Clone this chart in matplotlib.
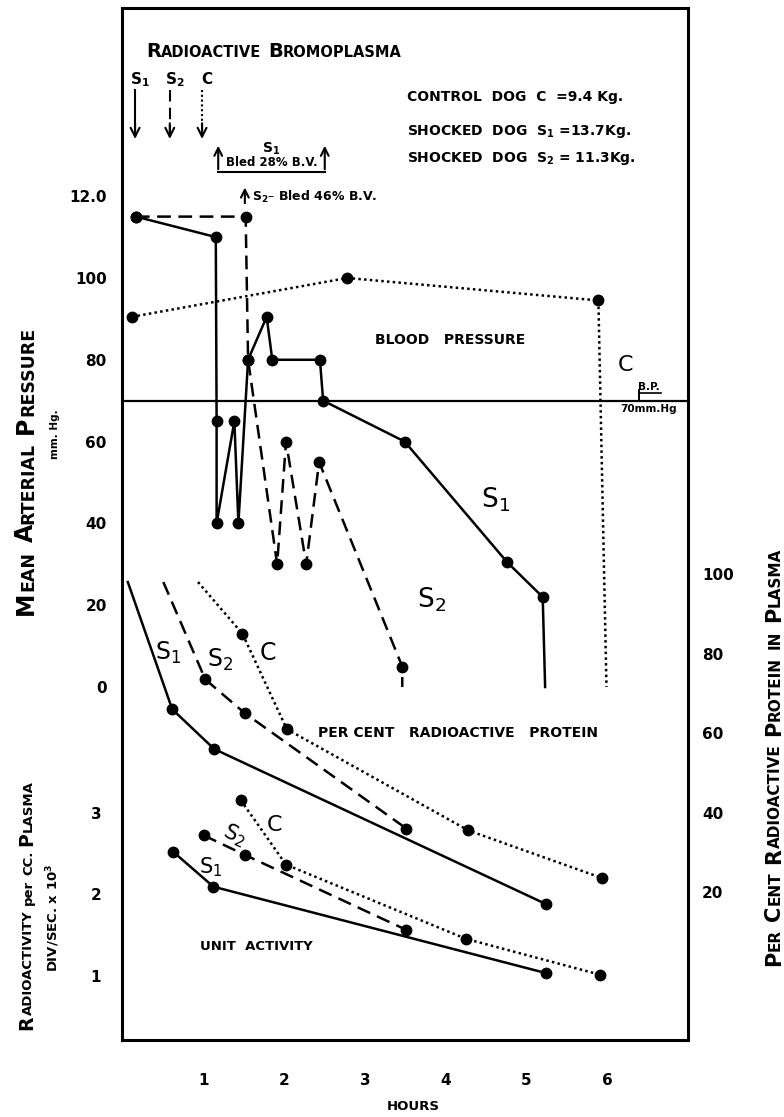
import numpy as np
import matplotlib.pyplot as plt

plt.rcParams['font.family'] = ['DejaVu Sans']
plt.rcParams['font.weight'] = 'bold'
plt.rcParams['mathtext.default'] = 'regular'

# ---- data ----
hour_ticks = [1, 2, 3, 4, 5, 6]
bp_ticks = [0, 20, 40, 60, 80, 100, 120]
bp_ticklabels = ['0', '20', '40', '60', '80', '100', '12.0']
pct_ticks = [20, 40, 60, 80, 100]
unit_ticks = [1, 2, 3]

# mean arterial pressure (mm Hg) vs hours; last point of each is the line end (no dot)
bp_s1_t = [0.16, 1.15, 1.16, 1.16, 1.38, 1.43, 1.55, 1.78, 1.85, 2.44, 2.48, 3.49, 4.76, 5.20, 5.23]
bp_s1_v = [115, 110, 65, 40, 65, 40, 80, 90.5, 80, 80, 70, 60, 30.5, 22, 0]
bp_s2_t = [0.16, 1.52, 1.55, 1.91, 2.02, 2.27, 2.43, 3.46, 3.46]
bp_s2_v = [115, 115, 80, 30, 60, 30, 55, 5, 0]
bp_c_t = [0.11, 2.78, 5.89, 5.99]
bp_c_v = [90.5, 100, 94.5, 0]
bp_limit = 70

# per cent radioactive protein; first point of each is the line start (no dot)
pct_s1_t = [0.06, 0.61, 1.13, 5.24]
pct_s1_v = [98, 66, 56, 17]
pct_s2_t = [0.50, 1.02, 1.51, 3.51]
pct_s2_v = [98, 73.5, 65, 36]
pct_c_t = [0.93, 1.48, 2.03, 4.28, 5.94]
pct_c_v = [98, 85, 61, 35.5, 23.5]

# unit activity, div/sec x 10^3
unit_s1_t = [0.62, 1.12, 5.24]
unit_s1_v = [2.52, 2.09, 1.03]
unit_s2_t = [1.00, 1.51, 3.51]
unit_s2_v = [2.72, 2.48, 1.56]
unit_c_t = [1.46, 2.02, 4.25, 5.91]
unit_c_v = [3.15, 2.36, 1.45, 1.01]

# injection of bromoplasma and bleeding times (hours)
inject_t = [0.15, 0.58, 0.98]
bleed_s1_t = [1.18, 2.50]
bleed_s2_t = 1.51

W, H = 784, 1117
SOLID = '-'
DASH = (0, (5.5, 3))
DOT = (0, (1, 1.3))


def px(x, y):
    return x / W, 1 - y / H


def series(axis, t, v, ls, mark):
    axis.plot(t, v, color='black', linestyle=ls, linewidth=1.8,
              marker='o', markersize=7.5, markevery=mark, zorder=3)


def label(axis, x, y, s, size=17, **kw):
    axis.text(x, y, s, fontsize=size, fontweight='normal', ha='center', va='center', **kw)


def smallcaps(cx, cy, text, big, small, rotation=0, gap=5):
    """capitalised words get a big first letter and small caps after it,
    other words are set small as they are; (cx, cy) is the centre of the
    baseline in pixels from the top left"""
    r = fig.canvas.get_renderer()
    pieces = []
    for w in text.split():
        if w[0].isupper() and w[1:] != w[1:].upper():
            pieces += [(w[0], big, 0), (w[1:].upper(), small, gap)]
        else:
            pieces += [(w, small, gap)]
    # measure
    sizes = []
    for s, fs, g in pieces:
        t = fig.text(0, 0, s, fontsize=fs, rotation=rotation, rotation_mode='anchor')
        bb = t.get_window_extent(r)
        sizes.append(bb.width if rotation == 0 else bb.height)
        t.remove()
    total = sum(sizes) + sum(p[2] for p in pieces[:-1])
    pos = -total / 2
    for (s, fs, g), ln in zip(pieces, sizes):
        if rotation == 0:
            xy = px(cx + pos, cy)
        else:
            xy = px(cx, cy - pos)
        fig.text(*xy, s, fontsize=fs, rotation=rotation, rotation_mode='anchor',
                 ha='left', va='baseline')
        pos += ln + g


fig = plt.figure(figsize=(W / 100, H / 100), dpi=100)
ax = fig.add_axes([122 / W, 1 - 1040 / H, 566 / W, 1032 / H])
ax.set_xlim(-0.012, 7.0)
ax.set_ylim(-86.3, 166.0)
ax_pct = ax.twinx()
ax_pct.set_ylim(-17.2, 242.4)
ax_unit = ax.twinx()
ax_unit.set_ylim(0.209, 12.87)

for a in (ax, ax_pct, ax_unit):
    a.tick_params(length=0, labelsize=11)
    a.patch.set_visible(False)
for a in (ax_pct, ax_unit):
    for s in a.spines.values():
        s.set_visible(False)
for s in ax.spines.values():
    s.set_linewidth(2.2)

ax.set_xticks(hour_ticks)
ax.set_xticklabels([str(h) for h in hour_ticks])
ax.tick_params(axis='x', pad=24)
ax.set_yticks(bp_ticks)
ax.set_yticklabels(bp_ticklabels)
ax.tick_params(axis='y', pad=11)
ax_pct.set_yticks(pct_ticks)
ax_pct.tick_params(axis='y', pad=10)
ax_unit.yaxis.tick_left()
ax_unit.set_yticks(unit_ticks)
ax_unit.tick_params(axis='y', pad=15)

# blood pressure
series(ax, bp_s1_t, bp_s1_v, SOLID, slice(0, -1))
series(ax, bp_s2_t, bp_s2_v, DASH, slice(0, -1))
series(ax, bp_c_t, bp_c_v, DOT, slice(0, -1))
ax.axhline(bp_limit, color='black', linewidth=1.6)

# per cent protein
series(ax_pct, pct_s1_t, pct_s1_v, SOLID, slice(1, None))
series(ax_pct, pct_s2_t, pct_s2_v, DASH, slice(1, None))
series(ax_pct, pct_c_t, pct_c_v, DOT, slice(1, None))

# unit activity
series(ax_unit, unit_s1_t, unit_s1_v, SOLID, None)
series(ax_unit, unit_s2_t, unit_s2_v, DASH, None)
series(ax_unit, unit_c_t, unit_c_v, DOT, None)

# injection arrows
for t, ls, lab in zip(inject_t, [SOLID, DASH, DOT], ['S$_1$', 'S$_2$', 'C']):
    ax.plot([t, t], [146.0, 134.6], color='black', linestyle=ls, linewidth=1.5)
    ax.annotate('', xy=(t, 133.3), xytext=(t, 138.5),
                arrowprops=dict(arrowstyle='->', lw=1.5, color='black', mutation_scale=16))
    ax.text(t + 0.06, 148.6, lab, fontsize=11, ha='center', va='center')

# bleeding
for t in bleed_s1_t:
    ax.annotate('', xy=(t, 133.0), xytext=(t, 125.9),
                arrowprops=dict(arrowstyle='->', lw=1.5, color='black', mutation_scale=14))
ax.plot(bleed_s1_t, [125.9, 125.9], color='black', linewidth=1.5)
ax.text(np.mean(bleed_s1_t), 131.6, 'S$_1$', fontsize=10, ha='center', va='center')
ax.text(np.mean(bleed_s1_t), 128.3, 'Bled 28% B.V.', fontsize=8.5, ha='center', va='center')
ax.annotate('', xy=(bleed_s2_t, 122.8), xytext=(bleed_s2_t, 117.6),
            arrowprops=dict(arrowstyle='->', lw=1.5, color='black', mutation_scale=14))
ax.text(bleed_s2_t + 0.09, 119.8, 'S$_2$\u2013 Bled 46% B.V.', fontsize=9, ha='left', va='center')

smallcaps(274, 57, 'Radioactive Bromoplasma', 14, 10.5, gap=7)
ax.text(3.52, 144.3, 'CONTROL  DOG  C  =9.4 Kg.', fontsize=10, ha='left', va='center')
ax.text(3.52, 135.7, 'SHOCKED  DOG  S$_1$ =13.7Kg.', fontsize=10, ha='left', va='center')
ax.text(3.52, 129.3, 'SHOCKED  DOG  S$_2$ = 11.3Kg.', fontsize=10, ha='left', va='center')

ax.text(3.12, 84.8, 'BLOOD   PRESSURE', fontsize=10, ha='left', va='center')
label(ax, 6.22, 78.7, 'C', 16)
label(ax, 4.62, 45.7, 'S$_1$', 19)
label(ax, 3.82, 21.3, 'S$_2$', 19)
ax.text(6.52, 73.3, 'B.P.', fontsize=7.5, ha='center', va='center')
ax.plot([6.39, 6.67], [71.9, 71.9], color='black', linewidth=1.2)
ax.plot([6.39, 6.39], [bp_limit, 72.5], color='black', linewidth=1.4)
ax.text(6.51, 67.9, '70mm.Hg', fontsize=7.5, ha='center', va='center')

label(ax_pct, 0.56, 80.1, 'S$_1$')
label(ax_pct, 1.20, 78.4, 'S$_2$')
label(ax_pct, 1.80, 80.1, 'C')
ax_pct.text(2.42, 60.0, 'PER CENT   RADIOACTIVE   PROTEIN', fontsize=10, ha='left', va='center')

label(ax_unit, 1.88, 2.85, 'C', 16)
label(ax_unit, 1.38, 2.72, 'S$_2$', 15, rotation=-25)
label(ax_unit, 1.09, 2.33, 'S$_1$', 15)
ax_unit.text(0.95, 1.35, 'UNIT  ACTIVITY', fontsize=9.5, ha='left', va='center')

# axis titles
smallcaps(33, 471, 'Mean Arterial Pressure', 17, 12.5, rotation=90, gap=9)
fig.text(*px(55, 434), 'mm. Hg.', rotation=90, fontsize=7.5, ha='center', va='center')
smallcaps(32, 905, 'Radioactivity per CC. Plasma', 13.5, 9.5, rotation=90, gap=5)
fig.text(*px(53, 918), 'DIV/SEC. x 10$^3$', rotation=90, fontsize=9.5, ha='center', va='center')
smallcaps(780, 757, 'Per Cent Radioactive Protein IN Plasma', 15, 11, rotation=90, gap=8)
fig.text(*px(413, 1107), 'HOURS', fontsize=9.5, ha='center', va='center')

fig.savefig('out.png', dpi=100)
